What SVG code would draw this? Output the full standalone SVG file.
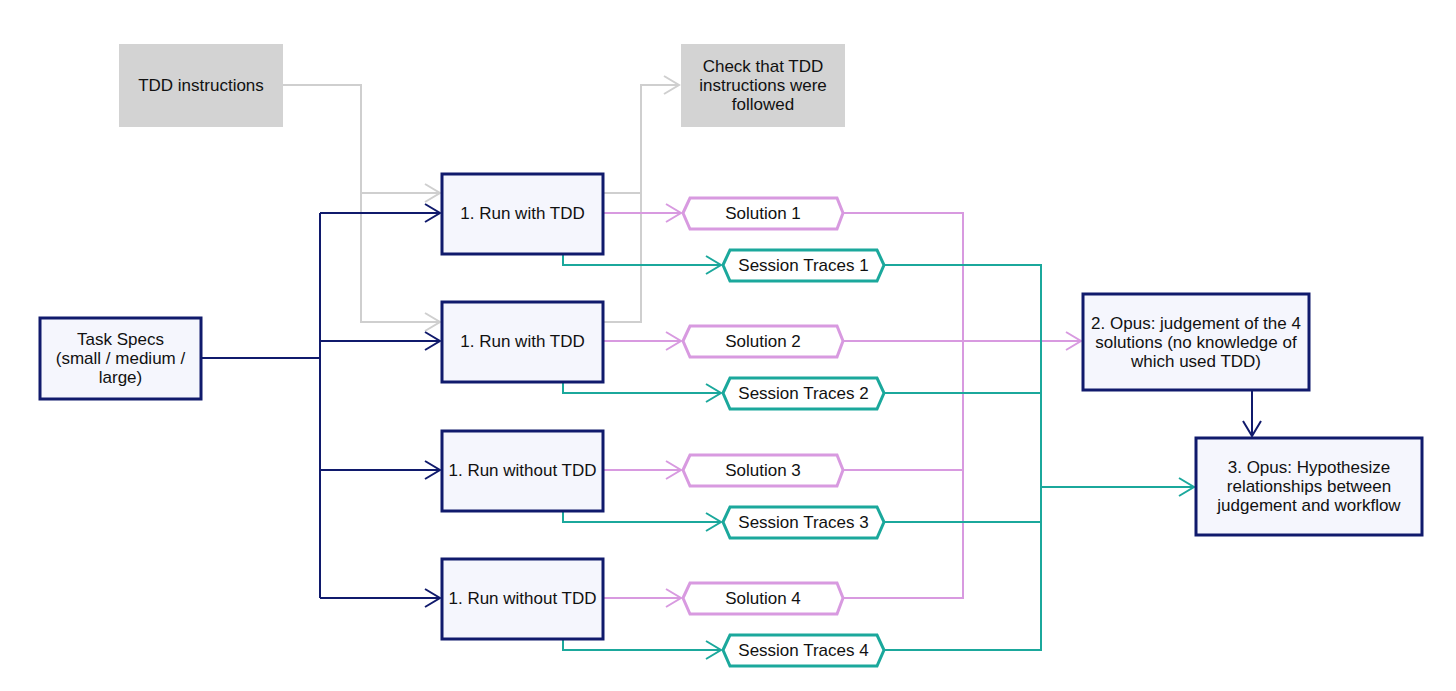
<svg xmlns="http://www.w3.org/2000/svg" width="1456" height="691" viewBox="0 0 1456 691">
<style>
text{font-family:"Liberation Sans",Arial,sans-serif;font-size:17px;fill:#111;text-anchor:middle;dominant-baseline:central}
.grey{fill:#d3d3d3;stroke:none}
.box{fill:#f5f6fd;stroke:#101a6c;stroke-width:3}
.sol{fill:#fff;stroke:#d89ae0;stroke-width:3}
.tr{fill:#fff;stroke:#1ba89c;stroke-width:3}
.cg{fill:none;stroke:#cfcfcf;stroke-width:2}
.cn{fill:none;stroke:#101a6c;stroke-width:2}
.cp{fill:none;stroke:#d89ae0;stroke-width:2}
.ct{fill:none;stroke:#1ba89c;stroke-width:2}
</style>
<defs>
<marker id="ag" markerWidth="18" markerHeight="22" refX="16" refY="11" orient="auto" markerUnits="userSpaceOnUse"><path d="M1,2 L16,11 L1,20" fill="none" stroke="#cfcfcf" stroke-width="2"/></marker>
<marker id="an" markerWidth="18" markerHeight="22" refX="16" refY="11" orient="auto" markerUnits="userSpaceOnUse"><path d="M1,2 L16,11 L1,20" fill="none" stroke="#101a6c" stroke-width="2"/></marker>
<marker id="ap" markerWidth="18" markerHeight="22" refX="16" refY="11" orient="auto" markerUnits="userSpaceOnUse"><path d="M1,2 L16,11 L1,20" fill="none" stroke="#d89ae0" stroke-width="2"/></marker>
<marker id="at" markerWidth="18" markerHeight="22" refX="16" refY="11" orient="auto" markerUnits="userSpaceOnUse"><path d="M1,2 L16,11 L1,20" fill="none" stroke="#1ba89c" stroke-width="2"/></marker>
</defs>
<rect width="1456" height="691" fill="#fff"/>
<g id="connectors">
<path class="cg" d="M283,85 H361 V193 H440" marker-end="url(#ag)"/>
<path class="cg" d="M361,193 V322 H440" marker-end="url(#ag)"/>
<path class="cg" d="M603,193 H641 V85 H679" marker-end="url(#ag)"/>
<path class="cg" d="M603,322 H641 V193"/>
<path class="cn" d="M201,358 H320"/>
<path class="cn" d="M320,213 V598"/>
<path class="cn" d="M320,213 H440" marker-end="url(#an)"/>
<path class="cn" d="M320,341 H440" marker-end="url(#an)"/>
<path class="cn" d="M320,470 H440" marker-end="url(#an)"/>
<path class="cn" d="M320,598 H440" marker-end="url(#an)"/>
<path class="cp" d="M603,213 H681" marker-end="url(#ap)"/>
<path class="cp" d="M603,341 H681" marker-end="url(#ap)"/>
<path class="cp" d="M603,470 H681" marker-end="url(#ap)"/>
<path class="cp" d="M603,598 H681" marker-end="url(#ap)"/>
<path class="ct" d="M563,254 V265 H721" marker-end="url(#at)"/>
<path class="ct" d="M563,382 V393 H721" marker-end="url(#at)"/>
<path class="ct" d="M563,511 V522 H721" marker-end="url(#at)"/>
<path class="ct" d="M563,639 V650 H721" marker-end="url(#at)"/>
<path class="cp" d="M843,213 H963 V598 H843"/>
<path class="cp" d="M843,470 H963"/>
<path class="cp" d="M843,341 H1081" marker-end="url(#ap)"/>
<path class="ct" d="M884,265 H1041 V650 H884"/>
<path class="ct" d="M884,393 H1041"/>
<path class="ct" d="M884,522 H1041"/>
<path class="ct" d="M1041,487 H1194" marker-end="url(#at)"/>
<path class="cn" d="M1252,390 V436" marker-end="url(#an)"/>
</g>
<g id="tdd-instructions"><rect class="grey" x="119" y="44" width="164" height="83"/><text x="201" y="85">TDD instructions</text></g>
<g id="check-tdd"><rect class="grey" x="681" y="44" width="164" height="83"/><text x="763" y="66">Check that TDD</text><text x="763" y="85">instructions were</text><text x="763" y="104">followed</text></g>
<g id="task-specs"><rect class="box" x="40" y="318" width="161" height="81"/><text x="120.5" y="339">Task Specs</text><text x="120.5" y="358">(small / medium /</text><text x="120.5" y="377">large)</text></g>
<g id="run1"><rect class="box" x="442" y="174" width="161" height="80"/><text x="522.5" y="213">1. Run with TDD</text></g>
<g id="run2"><rect class="box" x="442" y="302" width="161" height="80"/><text x="522.5" y="341">1. Run with TDD</text></g>
<g id="run3"><rect class="box" x="442" y="431" width="161" height="80"/><text x="522.5" y="470">1. Run without TDD</text></g>
<g id="run4"><rect class="box" x="442" y="559" width="161" height="80"/><text x="522.5" y="598">1. Run without TDD</text></g>
<g id="solution1"><path class="sol" d="M683,213 L690,198 H837 L843,213 L837,229 H690 Z"/><text x="763" y="213">Solution 1</text></g>
<g id="solution2"><path class="sol" d="M683,341 L690,326 H837 L843,341 L837,357 H690 Z"/><text x="763" y="341">Solution 2</text></g>
<g id="solution3"><path class="sol" d="M683,470 L690,455 H837 L843,470 L837,486 H690 Z"/><text x="763" y="470">Solution 3</text></g>
<g id="solution4"><path class="sol" d="M683,598 L690,583 H837 L843,598 L837,614 H690 Z"/><text x="763" y="598">Solution 4</text></g>
<g id="traces1"><path class="tr" d="M723,265 L730,250 H877 L884,265 L877,281 H730 Z"/><text x="803.5" y="265">Session Traces 1</text></g>
<g id="traces2"><path class="tr" d="M723,393 L730,378 H877 L884,393 L877,409 H730 Z"/><text x="803.5" y="393">Session Traces 2</text></g>
<g id="traces3"><path class="tr" d="M723,522 L730,507 H877 L884,522 L877,538 H730 Z"/><text x="803.5" y="522">Session Traces 3</text></g>
<g id="traces4"><path class="tr" d="M723,650 L730,635 H877 L884,650 L877,666 H730 Z"/><text x="803.5" y="650">Session Traces 4</text></g>
<g id="opus2"><rect class="box" x="1083" y="294" width="226" height="96"/><text x="1196" y="323">2. Opus: judgement of the 4</text><text x="1196" y="342">solutions (no knowledge of</text><text x="1196" y="361">which used TDD)</text></g>
<g id="opus3"><rect class="box" x="1196" y="438" width="226" height="97"/><text x="1309" y="467">3. Opus: Hypothesize</text><text x="1309" y="486">relationships between</text><text x="1309" y="505">judgement and workflow</text></g>
</svg>
